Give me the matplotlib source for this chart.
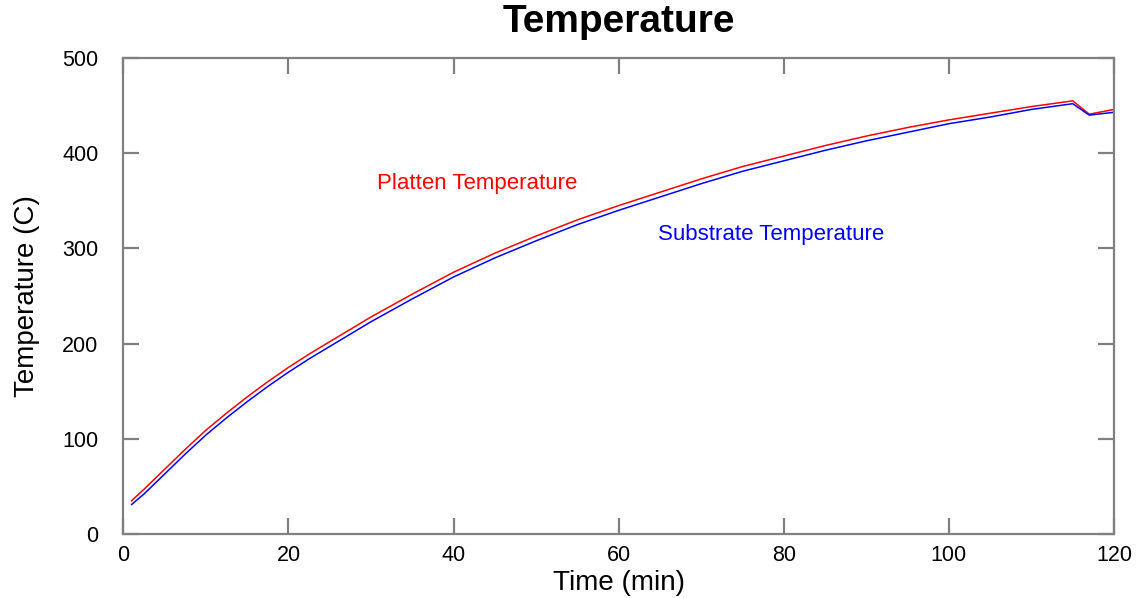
import matplotlib
matplotlib.use("Agg")
import matplotlib.pyplot as plt

plt.rcParams['font.family'] = ['Liberation Sans', 'DejaVu Sans']

time_min = [1, 2.5, 5, 7.5, 10, 12.5, 15, 17.5, 20, 22.5, 25, 27.5, 30, 35, 40,
            45, 50, 55, 60, 65, 70, 75, 80, 85, 90, 95, 100, 105, 110, 115,
            117, 120]
platten = [35, 47, 68, 89, 109, 127, 144, 160, 175, 189, 202, 215, 228, 252,
           275, 295, 313, 330, 345, 359, 373, 386, 397, 408, 418, 427, 435,
           442, 449, 455, 441, 446]
substrate = [31, 42, 63, 84, 104, 122, 139, 155, 170, 184, 197, 210, 223, 247,
             270, 290, 308, 325, 340, 354, 368, 381, 392, 403, 413, 422, 431,
             438, 446, 452, 440, 443]

x_ticks = [0, 20, 40, 60, 80, 100, 120]
y_ticks = [0, 100, 200, 300, 400, 500]

fig = plt.figure(figsize=(11.42, 5.98), dpi=100)
ax = fig.add_axes([0.108, 0.107, 0.8675, 0.796])

ax.plot(time_min, platten, color='#ff0000', lw=1.1)
ax.plot(time_min, substrate, color='#0000ff', lw=1.1)

ax.set_xlim(0, 120)
ax.set_ylim(0, 500)
ax.set_xticks(x_ticks)
ax.set_yticks(y_ticks)

for s in ax.spines.values():
    s.set_color('#808080')
    s.set_linewidth(1.6)

ax.tick_params(axis='both', which='both', direction='in', length=11.5,
               width=1.6, color='#808080', top=True, right=True,
               labelsize=15.5, labelcolor='black')
ax.tick_params(axis='y', pad=18)
ax.tick_params(axis='x', pad=8)

ax.set_title('Temperature', fontsize=28, fontweight='bold', pad=19)
ax.set_xlabel('Time (min)', fontsize=20, labelpad=2.5)
ax.set_ylabel('Temperature (C)', fontsize=20, labelpad=16)

ax.text(30.7, 368.7, 'Platten Temperature', color='#ff0000', fontsize=16,
        ha='left', va='center')
ax.text(64.8, 315, 'Substrate Temperature', color='#0000ff', fontsize=16,
        ha='left', va='center')

fig.savefig('out.png', dpi=100)
